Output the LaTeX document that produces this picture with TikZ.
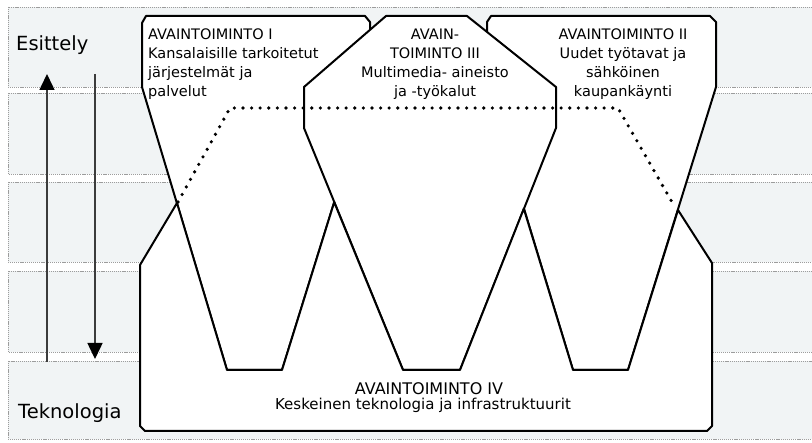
\documentclass[tikz,border=0pt]{standalone}
\usepackage{fontspec}
\setmainfont{DejaVu Sans}
\usetikzlibrary{arrows.meta}

\definecolor{bandgray}{HTML}{F1F4F5}
\definecolor{dotgray}{HTML}{9C9C9C}
\definecolor{axisgray}{HTML}{3C3C3C}

\begin{document}
\begin{tikzpicture}[%
    x=1pt, y=-1pt,
    band/.style={%
      fill=bandgray,              % pale background row
      draw=dotgray,               % fine dotted edge
      line width=0.8pt,
      dash pattern=on 1.2pt off 0.9pt
    },
    area/.style={%
      fill=white,                 % white inside
      draw=black,                 % black outline
      line width=2pt,             %              and thick
      line join=round
    },
    writing/.style={%
      inner sep=0pt,
      font=\fontsize{14.5}{19.3}\selectfont
    },
    side/.style={%
      inner sep=0pt,
      font=\fontsize{19.5}{22}\selectfont
    },
    axis/.style={%
      draw=axisgray,              % dark gray shaft
      line width=1.5pt,
      -{Triangle[width=15pt,length=16pt,black]}  % filled head
    },
    trend/.style={%
      line width=3.6pt,           % round dots
      dash pattern=on 0pt off 8.6pt,
      line cap=round
    }
]

    \useasboundingbox (0,0) rectangle (812,443);
    \clip (0,0) rectangle (812,443);

    % background rows
    \foreach \top/\bottom in {7/87, 93/174, 182/262, 271/352, 361/439}
        \draw[band] (8,\top) rectangle (830,\bottom);

    % key actions I and II
    \draw[area] (142,23) -- (146,16) -- (365,16) -- (370,22) -- (370,87)
        -- (282,370) -- (227,370) -- (142,87) -- cycle;
    \draw[area] (487,22) -- (491,16) -- (710,16) -- (716,22) -- (716,87)
        -- (628,370) -- (573,370) -- (487,87) -- cycle;

    % key action III
    \draw[area] (386,16) -- (467,16) -- (556,87) -- (556,128)
        -- (460,370) -- (403,370) -- (304,128) -- (304,87) -- cycle;

    % key action IV
    \coordinate (left shoulder)  at (177,203);
    \coordinate (right shoulder) at (678,210);
    \draw[area] (140,265) -- (left shoulder) -- (227,370) -- (282,370)
        -- (334.2,202.2) -- (403,370) -- (460,370) -- (523.8,208.7)
        -- (573,370) -- (628,370) -- (right shoulder) -- (712,263)
        -- (712,426) -- (707,431) -- (145,431) -- (140,426) -- cycle;

    % dotted trend
    \coordinate (trend start) at (178,202);
    \coordinate (trend left)  at (230,108);
    \coordinate (trend right) at (618,108);
    \coordinate (trend end)   at (672,202);
    \draw[trend] (trend start) -- (trend left) -- (trend right) -- (trend end);

    % axis arrows
    \coordinate (up start)   at (47,362);
    \coordinate (up end)     at (47,74);
    \coordinate (down start) at (95,74);
    \coordinate (down end)   at (95,359);
    \draw[axis] (up start) -- (up end);
    \draw[axis] (down start) -- (down end);

    % nodes
    \node[side, anchor=base west] (esittely)   at (16,51)  {Esittely};
    \node[side, anchor=base west] (teknologia) at (18,419) {Teknologia};

    \node[writing, anchor=base west, align=left] (action one) at (148,97)
        {AVAINTOIMINTO I\\Kansalaisille tarkoitetut\\järjestelmät ja\\palvelut};
    \node[writing, anchor=base, align=center] (action three) at (435,97)
        {AVAIN-\\TOIMINTO III\\Multimedia- aineisto\\ja -työkalut};
    \node[writing, anchor=base, align=center] (action two) at (623,97)
        {AVAINTOIMINTO II\\Uudet työtavat ja\\sähköinen\\kaupankäynti};

    \node[inner sep=0pt, anchor=base, font=\fontsize{16}{18}\selectfont]
        (action four) at (429,395) {AVAINTOIMINTO IV};
    \node[inner sep=0pt, anchor=base, font=\fontsize{15}{18}\selectfont]
        (action four text) at (423,410) {Keskeinen teknologia ja infrastruktuurit};

\end{tikzpicture}
\end{document}
